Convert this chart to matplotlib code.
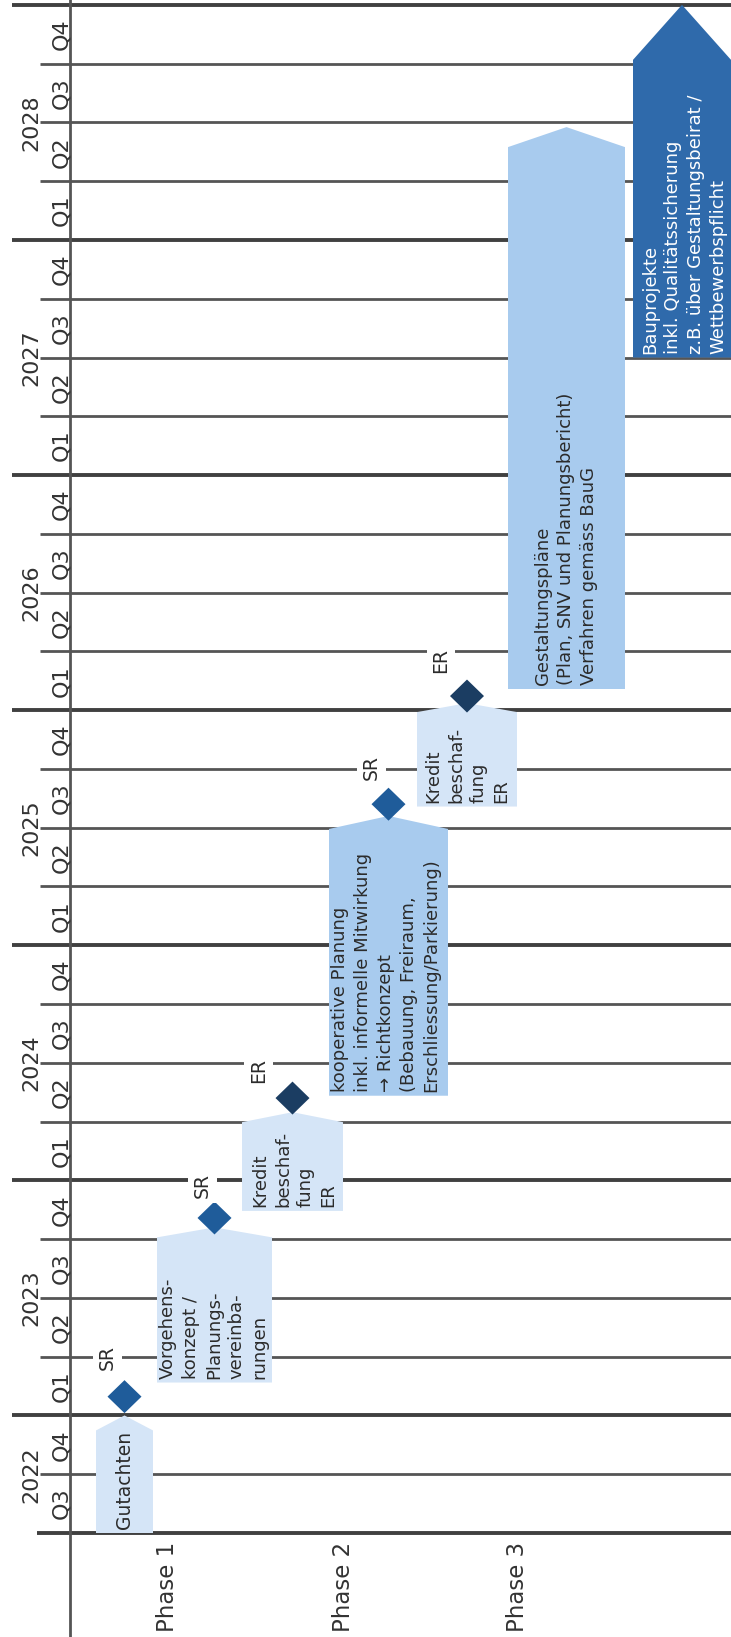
import matplotlib
matplotlib.use("Agg")
import matplotlib.pyplot as plt

plt.rcParams['font.family'] = ['DejaVu Sans']

# ---------------- data ----------------
years = [2022, 2023, 2024, 2025, 2026, 2027, 2028]
first_quarter = 3          # timeline starts 2022 Q3
last_year_end = 2029.0     # ends after 2028 Q4
quarter_labels = ["Q1", "Q2", "Q3", "Q4"]
phase_labels = ["Phase 1", "Phase 2", "Phase 3"]

task_labels = [
    "Gutachten",
    "Vorgehens-\nkonzept /\nPlanungs-\nvereinba-\nrungen",
    "Kredit\nbeschaf-\nfung\nER",
    "kooperative Planung\ninkl. informelle Mitwirkung\n\u2192 Richtkonzept\n(Bebauung, Freiraum,\nErschliessung/Parkierung)",
    "Kredit\nbeschaf-\nfung\nER",
    "Gestaltungspläne\n(Plan, SNV und Planungsbericht)\nVerfahren gemäss BauG",
    "Bauprojekte\ninkl. Qualitätssicherung\nz.B. über Gestaltungsbeirat /\nWettbewerbspflicht",
]
task_start = [2022.50, 2023.14, 2023.87, 2024.36, 2025.59, 2026.09, 2027.50]
task_end = [2023.00, 2023.80, 2024.29, 2025.55, 2026.03, 2028.48, 2029.00]

milestone_labels = ["SR", "SR", "ER", "SR", "ER"]
milestone_time = [2023.08, 2023.84, 2024.35, 2025.60, 2026.06]

# ---------------- layout / style ----------------
W, H = 731, 1637
PX_PER_YEAR = 235.1
Y_BOTTOM_LINE_PX = 1533
y_top = 2022.5 + Y_BOTTOM_LINE_PX / PX_PER_YEAR
y_bot = 2022.5 - (H - Y_BOTTOM_LINE_PX) / PX_PER_YEAR

def py(px):  # pixel length -> year length
    return px / PX_PER_YEAR

task_x = [(96, 153), (157, 272), (242, 343), (329, 448), (417, 517), (508, 625), (633, 731)]
task_rise = [15, 10, 10, 13, 9, 20, 55]
task_color = ["#d5e5f7", "#d5e5f7", "#d5e5f7", "#a8cbee", "#d5e5f7", "#a8cbee", "#2f6aab"]
task_text_color = ["#2b2b2b"] * 6 + ["white"]
task_pad = [None, 2, 9, 2, 7, 26, 8]   # left padding of text (None = centered)

ms_task = [0, 1, 2, 3, 4]
ms_color = ["#1f5c9a", "#1f5c9a", "#1b3d62", "#1f5c9a", "#1b3d62"]
ms_label_dx = [-17, -12, -34, -17, -26]
ms_label_dy = [-39, -32, -28, -37, -36]

phase_x = [168, 344, 518]

fig = plt.figure(figsize=(W / 100, H / 100), dpi=100)
ax = fig.add_axes([0, 0, 1, 1])
ax.set_xlim(0, W)
ax.set_ylim(y_bot, y_top)
ax.axis("off")

line_col = "#555555"
axis_x = 70

# quarter / year lines
t = 2022.5
bounds = []
while t <= last_year_end + 1e-9:
    bounds.append(round(t, 2))
    t += 0.25
for b in bounds:
    is_year = abs(b - round(b)) < 1e-6
    if is_year:
        ax.plot([12, W], [b, b], color="#404040", lw=2.8, zorder=1, solid_capstyle="butt")
    elif b == bounds[0]:
        ax.plot([37, W], [b, b], color="#404040", lw=2.8, zorder=1, solid_capstyle="butt")
    else:
        ax.plot([40, W], [b, b], color=line_col, lw=2.0, zorder=1, solid_capstyle="butt")

ax.plot([axis_x, axis_x], [y_bot, y_top], color=line_col, lw=2.0, zorder=1)

# quarter labels and year labels
for yr in years:
    qs = list(range(first_quarter, 5)) if yr == years[0] else list(range(1, 5))
    for q in qs:
        yc = yr + (q - 1) * 0.25 + 0.125
        ax.text(61, yc, quarter_labels[q - 1], rotation=90, ha="center", va="center",
                fontsize=16, color="#333333", zorder=3)
    y0 = yr + (qs[0] - 1) * 0.25
    y1 = yr + qs[-1] * 0.25
    ax.text(31, (y0 + y1) / 2, str(yr), rotation=90, ha="center", va="center",
            fontsize=16, color="#333333", zorder=3)

# phase labels
for lab, x in zip(phase_labels, phase_x):
    ax.text(x, 2022.5 - py(9), lab, rotation=90, ha="center", va="top",
            fontsize=16.5, color="#333333", zorder=3)

# tasks
for i, lab in enumerate(task_labels):
    x0, x1 = task_x[i]
    xc = (x0 + x1) / 2
    s, e = task_start[i], task_end[i]
    r = py(task_rise[i])
    xs = [x0, x1, x1, xc, x0]
    ys = [s, s, e - r, e, e - r]
    ax.fill(xs, ys, color=task_color[i], lw=0, zorder=2)
    if task_pad[i] is None:
        ax.text(xc, s + py(4), lab, rotation=90, rotation_mode="anchor",
                ha="left", va="center", fontsize=13.5, color=task_text_color[i],
                linespacing=1.3, zorder=4, clip_on=True)
    else:
        ax.text(x0 + task_pad[i], s + py(4), lab, rotation=90, rotation_mode="anchor",
                ha="left", va="top", fontsize=13, color=task_text_color[i],
                linespacing=1.35, zorder=4, clip_on=True)

# milestones
hw, hh = 17, 16.5
for i, lab in enumerate(milestone_labels):
    x0, x1 = task_x[ms_task[i]]
    xc = (x0 + x1) / 2
    yc = milestone_time[i]
    ax.fill([xc - hw, xc, xc + hw, xc], [yc, yc + py(hh), yc, yc - py(hh)],
            color=ms_color[i], lw=0, zorder=5)
    ax.text(xc + ms_label_dx[i], yc - py(ms_label_dy[i]), lab, rotation=90,
            ha="center", va="center", fontsize=13.5, color="#2b2b2b", zorder=5,
            bbox=dict(boxstyle="square,pad=0.25", fc="white", ec="none"))

fig.savefig("out.png", dpi=100, facecolor="white")
